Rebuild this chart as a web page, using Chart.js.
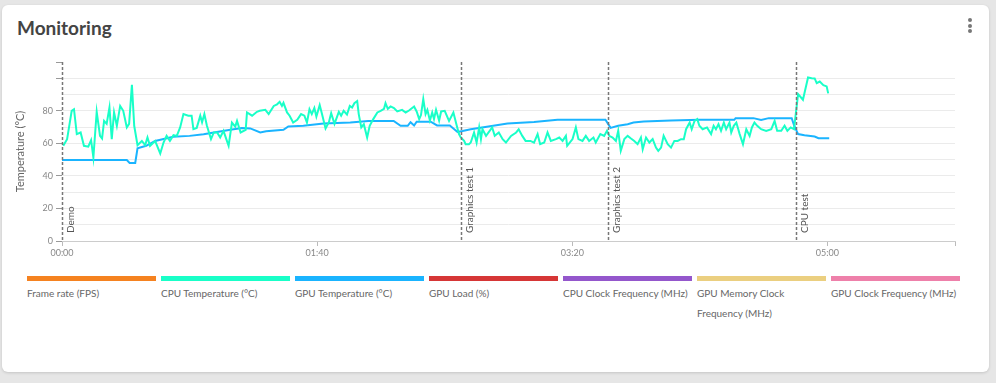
<!DOCTYPE html>
<html lang="en">
<head>
    <meta charset="UTF-8">
    <title>Monitoring</title>
    <style>
        html, body { margin: 0; padding: 0; }
        body {
            width: 996px; height: 383px; overflow: hidden;
            background: #e6e6e6;
            font-family: Lato, "Open Sans", sans-serif;
            position: relative;
        }
        .card {
            position: absolute; left: 2px; top: 5px; width: 987px; height: 367px;
            background: #fff; border-radius: 6px;
            box-shadow: 0 1px 3px rgba(0,0,0,0.15);
        }
        .card h2 {
            position: absolute; left: 15px; top: 11px; margin: 0;
            font-size: 19px; font-weight: 700; color: #444;
        }
        .menu { position: absolute; left: 966px; top: 13px; }
        .menu span { display: block; width: 4px; height: 4px; border-radius: 2px; background: #777; margin-bottom: 1.7px; }
        #chart-container { position: absolute; left: 8px; top: 45px; width: 960px; height: 215px; }
        #legend { position: absolute; left: 25px; top: 271px; display: flex; }
        .item { width: 129px; margin-right: 5px; }
        .item .bar { height: 5px; }
        .item .txt { font-size: 10px; color: #666; line-height: 20px; margin-top: 2px; }
    </style>
</head>
<body>
    <div class="card">
        <h2>Monitoring</h2>
        <div class="menu"><span></span><span></span><span></span></div>
        <div id="chart-container">
            <canvas id="myChart"></canvas>
        </div>
        <div id="legend"></div>
    </div>

    <script src="https://cdn.jsdelivr.net/npm/chart.js"></script>
    <script>
        // series names and colours (only the two temperatures carry data)
        const seriesNames = ['Frame rate (FPS)', 'CPU Temperature (°C)', 'GPU Temperature (°C)', 'GPU Load (%)',
            'CPU Clock Frequency (MHz)', 'GPU Memory Clock Frequency (MHz)', 'GPU Clock Frequency (MHz)'];
        const seriesColors = ['#f58220', '#19ffc8', '#1ab4ff', '#d63636', '#9457cc', '#ebcf80', '#ee80aa'];

        // test events (seconds)
        const eventTimes = [0, 156.3, 214, 287.8];
        const eventLabels = ['Demo', 'Graphics test 1', 'Graphics test 2', 'CPU test'];

        // CPU temperature samples
        const cpuTimes = [0.5,2,3.8,4.7,5.8,7.3,8.6,10.3,11.4,12.3,13.6,14.9,15.7,16.5,17.5,18.6,19.5,20.4,21.5,22.8,
            24,25.4,26.3,27.4,28.3,29.6,31.3,32.6,33.5,34.5,36.5,38.5,39.8,41,42.3,43.7,45,46.3,47.6,49.5,
            50.8,51.5,52.8,54.2,54.9,55.8,56.8,58.4,59.5,60.8,62,63.3,64.4,65.3,66.6,67.9,68.6,70,72,72.5,
            74.5,76.4,77.5,79.7,81,83,84.3,85.3,86.2,86.8,88.2,89.2,90.6,92.2,93.7,95,96,97,97.9,98.9,
            99.7,101,101.9,103.3,104.6,105.5,106.8,108.5,109.4,110.4,111.7,112.8,113.7,114.6,115.7,116.3,117.3,118.3,119.6,120.6,
            122,123.6,124.9,126.2,126.8,127.7,128.8,130.1,131.4,133.3,134.7,136,138,139,140,140.7,141.6,142.5,143.2,144.2,
            145.1,145.8,146.6,147.8,148.6,150,151.7,153.4,154.7,155.6,156.3,157.6,158.2,159.5,160.2,161.5,162.5,163.5,164.2,164.8,
            166.2,168.6,169.6,171.2,172.7,174,176,178,179,180.4,181.7,183.6,185,186.4,187.4,189,190.3,191.6,193.6,194.9,
            196.2,197.5,198,200.1,201.4,202.4,204,205.3,206.6,208.3,209.2,211,212.5,213.6,214.5,215.8,217.1,218,219,220.4,
            221.7,223,224.3,225.6,226.9,227.6,228.9,230.2,231.5,232.8,233.7,234.8,235.8,237.4,238.7,240,241.3,242.6,243.7,244.6,
            246,246.8,247.9,249,249.8,251.1,252.8,254.4,255.4,256.3,257.3,258.3,259.4,260.3,261.6,262.3,263.3,264.3,265.6,266.9,
            268.2,269.5,270.4,271.4,272.5,274,276,278,279.3,280.3,281.9,283.2,284.3,285.6,286.9,288.5,290.4,292.4,293.8,295,
            295.8,297,298.4,299.7,300.3];
        const cpuTemps = [58.5,62.6,80,81,65.7,66.7,58.5,58,62,51.3,79.4,64.6,63,73.8,72,82,62.6,79,70.8,83,
            80,69.8,72,96,70.8,58.9,61.5,58.9,63.6,58.5,61.5,53.8,60.5,64.6,61.5,65,64.6,69.8,78,77,
            77,68.7,69.5,77,73,78,70.8,62.6,66.7,66.7,63.6,67.7,62.6,58.5,72.8,70.3,73.8,66.7,68.3,79,
            77,79.4,80,80.6,78,83,84,85.5,83,84.9,79,77,72.8,74.5,78,77,72.8,81,78,81.7,
            76.5,83.5,78,69.2,73,78.6,72,79.4,77,80,77.7,83,82,84.7,86,78,69.8,71.8,63.6,70.8,
            74.9,79,80,81.2,84.7,81.2,82.7,81.7,79.6,80.6,79,80.2,82.7,79.6,74.9,77.4,87.2,78,80.6,74,
            79,74.9,80.6,74,79.6,80,73.8,79,71,65.7,63.6,61.5,59.5,59.5,60.5,66.7,60.5,69.8,62.6,68.7,
            64.6,69.8,64.6,66.7,62.6,60.5,64.6,66.7,68.7,64.6,61.5,61.5,60.5,65.7,59.5,60.5,66.7,61.5,62.6,63.6,
            61.5,64.6,58.5,62.6,69.8,62.6,61.5,64.6,61.5,63.6,60.5,65.7,64.6,67.7,64.6,63.6,61.5,67.7,55.4,62.6,
            64.6,63,61.5,59.5,63.6,56.4,63.6,60.5,62.6,57.4,55.4,57.4,64.6,59.5,57.4,61.5,61.5,62.6,62.6,68.7,
            72.8,68.7,73.8,74.9,70.8,68.7,69.8,65.7,70.8,68.7,71.8,67.7,72.8,68.7,72.8,66.7,70.8,72.8,65.7,59.5,
            68.7,64.6,69.8,72.8,70.8,68.7,67.7,68.7,73.8,67.7,67.7,70.8,67.7,69.8,68.7,90.3,86.8,100.5,100,99.9,
            97,98,95.8,95,90.7];

        // GPU temperature samples
        const gpuTimes = [0,25.4,26.5,28.7,29.6,33,36.5,43.6,50,55.5,60.7,66,70.5,73.8,77.7,80,86.8,88.7,94.6,102.5,
            113,120,130,132.7,135.5,136.6,138,139,144.5,147,152,155,157,160.2,164,169,174.6,185,194.2,213,
            215,218,221.7,224,228,238.7,250,263.5,264,271,274,277,286,287,288.5,291,295,296.5,300.7];
        const gpuTemps = [49.7,49.7,48,48,57,58.5,61.5,64,64.6,65.6,67,68.3,69.5,69.2,66.7,67.5,68.3,70.4,70.8,72.2,
            72.8,73.8,73.8,70.8,70.8,73,71,73.3,73.3,71,71,67,67.6,68.7,69.6,70.8,72.2,73.2,74.5,74.5,
            69.5,70.8,71.8,72.8,73.4,74.1,74.5,74.5,75.5,75.5,74.4,75.5,75.5,70.8,65.7,65,64.2,63.2,63.2];

        const toPoints = (ts, vs) => ts.map((t, i) => ({ x: t, y: vs[i] }));
        const seriesData = [[], toPoints(cpuTimes, cpuTemps), toPoints(gpuTimes, gpuTemps), [], [], [], []];

        const fmtTime = v => {
            const m = Math.floor(v / 60), s = Math.round(v % 60);
            return String(m).padStart(2, '0') + ':' + String(s).padStart(2, '0');
        };

        // dashed event markers with rotated labels
        const eventLines = {
            id: 'eventLines',
            afterDatasetsDraw(chart) {
                const { ctx, chartArea, scales } = chart;
                ctx.save();
                eventTimes.forEach((t, i) => {
                    const x = Math.round(scales.x.getPixelForValue(t)) + 0.5;
                    ctx.strokeStyle = '#777';
                    ctx.lineWidth = 1.5;
                    ctx.setLineDash([3, 2]);
                    ctx.beginPath();
                    ctx.moveTo(x, chartArea.top);
                    ctx.lineTo(x, chartArea.bottom);
                    ctx.stroke();
                    ctx.save();
                    ctx.translate(x + 3, chartArea.bottom - 8);
                    ctx.rotate(-Math.PI / 2);
                    ctx.fillStyle = '#555';
                    ctx.font = '10px Lato, "Open Sans", sans-serif';
                    ctx.textAlign = 'left';
                    ctx.textBaseline = 'top';
                    ctx.fillText(eventLabels[i], 0, 0);
                    ctx.restore();
                });
                ctx.restore();
            }
        };

        Chart.defaults.font.family = 'Lato, "Open Sans", sans-serif';

        const ctx = document.getElementById('myChart').getContext('2d');
        const chart = new Chart(ctx, {
            type: 'line',
            data: {
                datasets: seriesNames.map((name, i) => ({
                    label: name,
                    data: seriesData[i],
                    borderColor: seriesColors[i],
                    backgroundColor: seriesColors[i],
                    borderWidth: 2,
                    pointRadius: 0,
                    tension: 0,
                    fill: false
                }))
            },
            options: {
                responsive: true,
                maintainAspectRatio: false,
                animation: false,
                layout: { padding: { top: 12, right: 15, bottom: 0, left: 0 } },
                plugins: {
                    legend: { display: false },
                    tooltip: { enabled: false }
                },
                scales: {
                    x: {
                        type: 'linear',
                        min: 0,
                        max: 350,
                        afterFit: s => { s.height = 24; },
                        grid: { drawOnChartArea: false, tickLength: 5, color: '#bbb' },
                        border: { color: '#ccc' },
                        ticks: {
                            stepSize: 100,
                            maxRotation: 0,
                            padding: 2,
                            color: '#888',
                            font: { size: 9 },
                            callback: v => (v % 100 === 0 ? fmtTime(v) : '')
                        }
                    },
                    y: {
                        min: 0,
                        max: 110,
                        afterFit: s => { s.width = 52; },
                        border: { display: false },
                        grid: {
                            tickLength: 6,
                            color: c => (c.tick && c.tick.value === 110 ? 'rgba(0,0,0,0)' : '#ebebeb'),
                            tickColor: c => (c.tick && (c.tick.value % 20 === 0 || c.tick.value === 110) ? '#999' : 'rgba(0,0,0,0)')
                        },
                        ticks: {
                            stepSize: 10,
                            padding: 3,
                            color: '#888',
                            font: { size: 9 },
                            callback: v => (v % 20 === 0 && v <= 80 ? v : '')
                        },
                        title: {
                            display: true,
                            text: 'Temperature (°C)',
                            color: '#666',
                            font: { size: 11 },
                            padding: 4
                        }
                    }
                }
            },
            plugins: [eventLines]
        });

        // legend: coloured bar above each label
        const legend = document.getElementById('legend');
        seriesNames.forEach((name, i) => {
            const item = document.createElement('div');
            item.className = 'item';
            item.innerHTML = '<div class="bar" style="background:' + seriesColors[i] + '"></div><div class="txt">' + name + '</div>';
            legend.appendChild(item);
        });
    </script>
</body>
</html>
